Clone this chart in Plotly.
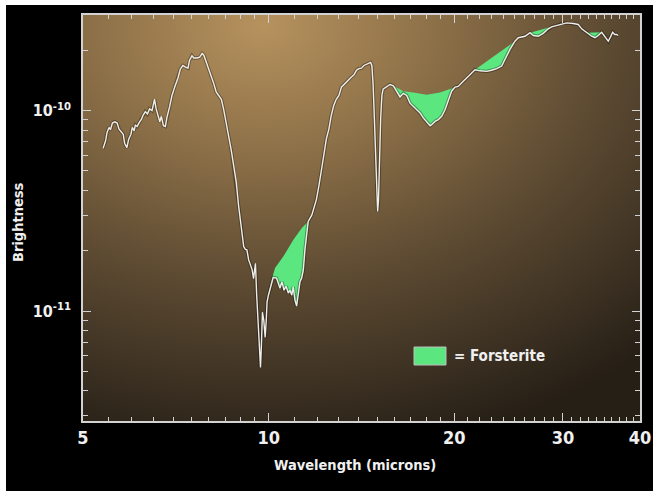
import base64
import math
import plotly.graph_objects as go

# ---------------- data ----------------
wavelength_um = [
    5.39, 5.44, 5.47, 5.51, 5.54, 5.58, 5.63, 5.68, 5.72, 5.77, 5.81, 5.84, 5.89, 5.93, 5.98,
    6.01, 6.05, 6.08, 6.12, 6.17, 6.22, 6.26, 6.31, 6.36, 6.41, 6.47, 6.53, 6.57, 6.61, 6.66,
    6.70, 6.75, 6.80, 6.84, 6.91, 6.97, 7.04, 7.13, 7.19, 7.26, 7.33, 7.40, 7.44, 7.51, 7.56,
    7.65, 7.73, 7.80, 7.85, 7.92, 8.00, 8.07, 8.15, 8.22, 8.30, 8.38, 8.45, 8.54, 8.61, 8.70,
    8.78, 8.86, 8.94, 9.03, 9.11, 9.17, 9.22, 9.28, 9.34, 9.40, 9.45, 9.49, 9.52, 9.56, 9.61,
    9.65, 9.70, 9.73, 9.74, 9.77, 9.82, 9.87, 9.91, 9.94, 9.99, 10.17, 10.30, 10.43, 10.51,
    10.59, 10.67, 10.76, 10.83, 10.90, 10.96, 11.03, 11.10, 11.17, 11.24, 11.31, 11.38, 11.45,
    11.52, 11.59, 11.75, 11.95, 12.06, 12.17, 12.28, 12.40, 12.52, 12.63, 12.75, 12.87, 13.00,
    13.12, 13.24, 13.36, 13.49, 13.62, 13.75, 13.88, 14.00, 14.14, 14.27, 14.40, 14.54, 14.63,
    14.70, 14.77, 14.84, 14.91, 14.98, 15.02, 15.07, 15.12, 15.19, 15.26, 15.33, 15.44, 15.73,
    15.93, 16.13, 16.33, 16.53, 16.74, 16.95, 17.16, 17.38, 17.60, 17.81, 18.04, 18.27, 18.38,
    18.61, 18.84, 19.08, 19.32, 19.55, 19.80, 20.05, 20.29, 20.68, 21.20, 21.60, 22.01, 22.57,
    22.99, 23.43, 23.87, 24.16, 24.62, 25.08, 25.39, 26.04, 26.53, 26.86, 27.36, 27.87, 28.40,
    28.76, 29.31, 29.86, 30.42, 31.18, 31.77, 32.17, 32.78, 33.40, 33.81, 34.23, 34.67, 35.10,
    35.53, 35.85, 36.12, 36.39, 36.66, 36.88,
]
# brightness in units of 1e-11
brightness_e11 = [
    6.49, 7.07, 7.78, 8.25, 8.03, 8.67, 8.80, 8.67, 8.09, 7.84, 7.63, 6.88, 6.54, 7.21, 7.63,
    8.25, 7.94, 8.47, 8.34, 8.74, 9.08, 9.51, 9.89, 9.62, 10.2, 10.0, 11.4, 10.2, 9.44, 8.80,
    9.37, 8.41, 8.34, 9.26, 10.5, 11.9, 13.1, 14.6, 16.1, 16.8, 16.5, 16.3, 17.8, 18.8, 18.3,
    18.3, 18.5, 19.3, 18.9, 17.5, 16.2, 15.0, 13.6, 12.4, 11.8, 11.4, 10.2, 8.74, 7.49, 6.30,
    5.09, 4.40, 3.33, 2.64, 2.10, 2.03, 2.02, 1.80, 1.70, 1.61, 1.45, 1.70, 1.73, 1.22, 0.898,
    0.659, 0.523, 0.659, 0.898, 0.988, 0.898, 0.740, 0.898, 1.11, 1.20, 1.47, 1.46, 1.30, 1.40,
    1.27, 1.33, 1.23, 1.27, 1.20, 1.32, 1.135, 1.06, 1.23, 1.40, 1.46, 1.60, 2.02,
    2.35, 2.80, 3.02, 3.60, 4.20, 4.90, 5.94, 7.21, 8.09, 9.44, 10.6, 11.4, 11.9,
    13.1, 13.5, 13.9, 14.4, 14.7, 15.1, 15.9, 16.2, 16.3, 16.8, 17.0, 17.2, 17.4,
    16.8, 13.4, 9.08, 5.72, 3.89, 3.14, 3.60, 5.94, 9.08, 11.9, 12.8, 13.0, 13.5,
    13.3, 12.5, 11.7, 12.2, 11.9, 10.9, 10.5, 10.2, 9.74, 9.20, 8.74, 8.41, 8.51,
    8.84, 9.02, 9.37, 10.1, 11.35, 12.5, 13.1, 13.2, 14.0, 15.1, 16.0, 15.8, 15.7,
    15.9, 16.2, 16.7, 18.0, 20.2, 22.2, 23.1, 23.5, 24.5, 23.7, 23.5, 24.3, 25.6,
    26.2, 26.6, 27.2, 27.4, 27.2, 26.9, 25.6, 24.5, 23.5, 23.1, 23.7, 24.6, 23.5,
    22.2, 23.4, 24.6, 24.0, 24.0, 23.7,
]

# upper edges (continua) of the green forsterite bands
forst_a_wl = [9.99, 10.09, 10.24, 10.56, 10.96, 11.31, 11.59]
forst_a_br = [1.20, 1.40, 1.64, 1.87, 2.26, 2.59, 2.80]
forst_b_wl = [15.93, 16.33, 16.53, 17.16, 18.04, 18.96, 19.68, 20.05]
forst_b_br = [13.3, 12.8, 12.5, 12.3, 12.0, 12.3, 12.8, 13.1]
forst_c_wl = [21.60, 25.08]
forst_c_br = [16.0, 22.2]
forst_d_wl = [26.53, 28.76]
forst_d_br = [24.5, 26.2]
forst_e_wl = [32.78, 34.67]
forst_e_br = [24.5, 24.6]

x_tick_vals = [5, 10, 20, 30, 40]
x_tick_text = ["5", "10", "20", "30", "40"]
x_minor_vals = [5.5, 6, 6.5, 7, 7.5, 8, 8.5, 9, 9.5] + list(range(11, 20)) + list(range(21, 30)) + list(range(31, 40))
y_tick_vals = [1e-11, 1e-10]
y_tick_text = ["10<sup>-11</sup>", "10<sup>-10</sup>"]
y_minor_vals = [k * 1e-12 for k in range(3, 10)] + [k * 1e-11 for k in range(2, 10)] + [2e-10, 3e-10]

x_title = "Wavelength (microns)"
y_title = "Brightness"
legend_label = "= Forsterite"

SCALE = 1e-11
brightness = [b * SCALE for b in brightness_e11]

# ---------------- style ----------------
W, H = 653, 491
ML, MR, MT, MB = 83, 13, 15, 70
PW, PH = W - ML - MR, H - MT - MB
GREEN = "#5ce680"
TXT = "#f0f0f0"
AXC = "#d2d2d2"
FONT = "DejaVu Sans Condensed"

fig = go.Figure()

regions = [(forst_a_wl, forst_a_br), (forst_b_wl, forst_b_br), (forst_c_wl, forst_c_br),
           (forst_d_wl, forst_d_br), (forst_e_wl, forst_e_br)]
for cwl, cbr in regions:
    lo, hi = cwl[0], cwl[-1]
    seg = [(w, b) for w, b in zip(wavelength_um, brightness) if lo - 1e-9 <= w <= hi + 1e-9]
    xs = list(cwl) + [p[0] for p in reversed(seg)]
    ys = [v * SCALE for v in cbr] + [p[1] for p in reversed(seg)]
    fig.add_trace(go.Scatter(x=xs, y=ys, mode="lines", fill="toself", fillcolor=GREEN,
                             line=dict(width=0, color=GREEN), hoverinfo="skip", showlegend=False))

fig.add_trace(go.Scatter(x=wavelength_um, y=brightness, mode="lines",
                         line=dict(color="rgba(0,0,0,0.35)", width=3.4), hoverinfo="skip",
                         showlegend=False))
fig.add_trace(go.Scatter(x=wavelength_um, y=brightness, mode="lines",
                         line=dict(color="#eeeeea", width=1.4), showlegend=False))

# background: thin white edge, black frame, warm radial glow behind the plot area
svg = f'''<svg xmlns="http://www.w3.org/2000/svg" width="{W}" height="{H}" viewBox="0 0 {W} {H}" preserveAspectRatio="none">
<defs><radialGradient id="g" gradientUnits="userSpaceOnUse" cx="263" cy="25" r="580"
 gradientTransform="translate(263 25) scale(1 0.75) translate(-263 -25)">
<stop offset="0" stop-color="#b6925e"/>
<stop offset="0.28" stop-color="#8f7249"/>
<stop offset="0.58" stop-color="#5f4c33"/>
<stop offset="0.85" stop-color="#3a2f21"/>
<stop offset="1" stop-color="#261f16"/>
</radialGradient></defs>
<rect width="{W}" height="{H}" fill="#ffffff"/>
<rect x="6" y="5" width="{W-6}" height="{H-5}" fill="#000000"/>
<rect x="{ML}" y="{MT}" width="{PW}" height="{PH}" fill="url(#g)"/>
</svg>'''
src = "data:image/svg+xml;base64," + base64.b64encode(svg.encode()).decode()

def px_x(p):          # pixel -> paper x
    return (p - ML) / PW

def px_y(p):          # pixel -> paper y
    return (H - MB - p) / PH

fig.add_layout_image(dict(source=src, xref="paper", yref="paper", x=px_x(0), y=px_y(0),
                          sizex=W / PW, sizey=H / PH, xanchor="left", yanchor="top",
                          sizing="stretch", layer="below"))

# legend swatch and label
fig.add_shape(type="rect", xref="paper", yref="paper", x0=px_x(414), x1=px_x(446),
              y0=px_y(365), y1=px_y(347), fillcolor=GREEN, line=dict(color="#bdbdbd", width=1))
fig.add_annotation(text=legend_label, xref="paper", yref="paper", x=px_x(452), y=px_y(356),
                   xanchor="left", yanchor="middle", showarrow=False,
                   font=dict(family=FONT, size=15, color=TXT, weight="bold"))

# axis titles
fig.add_annotation(text=x_title, xref="paper", yref="paper", x=px_x(355), y=px_y(465),
                   xanchor="center", yanchor="middle", showarrow=False,
                   font=dict(family=FONT, size=14.5, color=TXT, weight="bold"))
fig.add_annotation(text=y_title, xref="paper", yref="paper", x=px_x(18), y=px_y(222), textangle=-90,
                   xanchor="center", yanchor="middle", showarrow=False,
                   font=dict(family=FONT, size=14.5, color=TXT, weight="bold"))

axis_common = dict(showline=True, linecolor=AXC, linewidth=1.5, mirror="allticks",
                   ticks="inside", tickcolor=AXC, tickwidth=1.2, showgrid=False, zeroline=False)

fig.update_xaxes(type="log", range=[math.log10(5), math.log10(40)], tickmode="array",
                 tickvals=x_tick_vals, ticktext=x_tick_text, ticklen=8,
                 tickfont=dict(family=FONT, size=18, color=TXT, weight="bold"),
                 minor=dict(tickmode="array", tickvals=x_minor_vals, ticks="inside", ticklen=4,
                            tickcolor=AXC, tickwidth=1.2, showgrid=False),
                 **axis_common)
fig.update_yaxes(type="log", range=[math.log10(2.83e-12), math.log10(3.0e-10)], tickmode="array",
                 tickvals=y_tick_vals, ticktext=y_tick_text, ticklen=8, ticklabelstandoff=7,
                 tickfont=dict(family=FONT, size=16, color=TXT, weight="bold"),
                 minor=dict(tickmode="array", tickvals=y_minor_vals, ticks="inside", ticklen=5,
                            tickcolor=AXC, tickwidth=1.2, showgrid=False),
                 **axis_common)

fig.update_layout(width=W, height=H, margin=dict(l=ML, r=MR, t=MT, b=MB, autoexpand=False),
                  paper_bgcolor="#000000", plot_bgcolor="rgba(0,0,0,0)", showlegend=False)

fig.write_html("out.html", config={"displayModeBar": False},
               post_script="document.body.style.margin='0';document.body.style.overflow='hidden';")
